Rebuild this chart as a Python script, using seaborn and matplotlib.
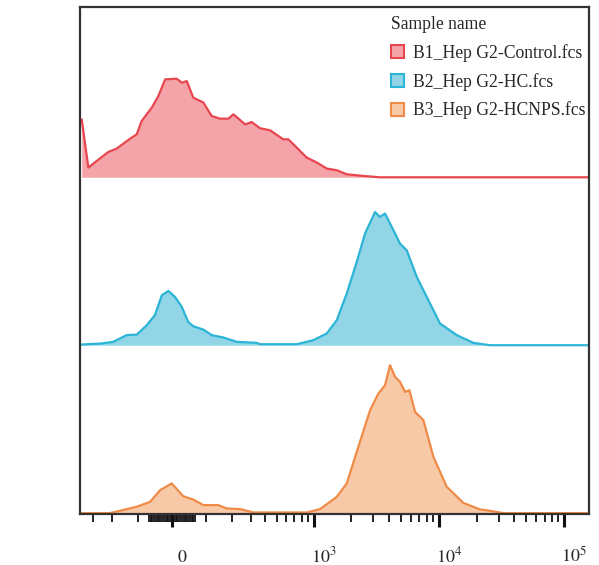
import numpy as np
import pandas as pd
import matplotlib.pyplot as plt
import seaborn as sns
from matplotlib.patches import Patch
from matplotlib.ticker import NullFormatter
from matplotlib.transforms import ScaledTranslation

# histogram outlines (height = fraction of one lane)
samples = ["B1_Hep G2-Control.fcs", "B2_Hep G2-HC.fcs", "B3_Hep G2-HCNPS.fcs"]

red_x = [-379, -332, -280, -218, -180, -127, -104, -88, -57, -38, -19, 13, 27, 41, 60, 91,
         119, 150, 184, 207, 267, 306, 362, 440, 568, 625, 731, 882, 1062, 1278, 1536, 1848,
         2507, 3400, 157000]
red_y = [0.345, 0.058, 0.097, 0.151, 0.171, 0.23, 0.256, 0.335, 0.415, 0.484, 0.583, 0.587,
         0.563, 0.573, 0.474, 0.445, 0.365, 0.349, 0.349, 0.375, 0.315, 0.329, 0.292, 0.28,
         0.226, 0.226, 0.177, 0.117, 0.088, 0.052, 0.042, 0.018, 0.008, 0.0, 0.0]

blue_x = [-385, -255, -195, -140, -104, -72, -48, -28, -10, 8, 27, 45, 60, 91, 119, 163, 223,
          339, 362, 731, 998, 1278, 1536, 1848, 2220, 2585, 3108, 3400, 3734, 4352, 4917, 5561,
          6683, 8025, 10245, 13925, 18880, 25650, 157000]
blue_y = [0.004, 0.01, 0.02, 0.06, 0.063, 0.119, 0.179, 0.298, 0.323, 0.288, 0.228, 0.139,
          0.113, 0.093, 0.06, 0.046, 0.02, 0.014, 0.006, 0.006, 0.03, 0.07, 0.149, 0.308, 0.496,
          0.665, 0.793, 0.764, 0.784, 0.685, 0.605, 0.565, 0.407, 0.288, 0.129, 0.06, 0.014,
          0.0, 0.0]

orange_x = [-385, -210, -166, -104, -62, -33, -1, 31, 60, 91, 143, 177, 240, 317, 882, 1129,
            1536, 1848, 2220, 2835, 3302, 3734, 4094, 4488, 4917, 5390, 5835, 6480, 7545, 9068,
            11585, 15715, 21340, 25650, 32745, 157000]
orange_y = [0, 0, 0.014, 0.038, 0.067, 0.137, 0.177, 0.101, 0.081, 0.048, 0.048, 0.028, 0.024,
            0.004, 0.004, 0.024, 0.097, 0.177, 0.365, 0.613, 0.712, 0.762, 0.881, 0.811, 0.782,
            0.722, 0.732, 0.603, 0.554, 0.335, 0.157, 0.061, 0.022, 0.014, 0, 0]

offsets = [2, 1, 0]
line_colors = ["#E8464F", "#2AB4D6", "#F08A47"]
fill_colors = ["#F4A4A9", "#92D5E6", "#F8C9A6"]

tick_values = [0, 1e3, 1e4, 1e5]
tick_labels = ["$0$", "$10^3$", "$10^4$", "$10^5$"]
minor_values = ([-300, -200, -100] + [v for v in range(-65, 70, 5) if v != 0]
                + list(range(100, 1000, 100)) + list(range(2000, 10000, 1000))
                + list(range(20000, 100000, 10000)))

frames = []
for name, xs, ys, off in zip(samples, [red_x, blue_x, orange_x], [red_y, blue_y, orange_y], offsets):
    frames.append(pd.DataFrame({"sample": name, "x": xs, "value": ys, "offset": off}))
df = pd.concat(frames, ignore_index=True)
df["y"] = df["value"] + df["offset"]

sns.set_style("white")
plt.rcParams["font.family"] = ["Liberation Serif", "DejaVu Serif"]
plt.rcParams["mathtext.fontset"] = "stix"

fig = plt.figure(figsize=(5.99, 5.65), dpi=100)
ax = fig.add_axes([0.134, 0.090, 0.849, 0.897])

for name, fc in zip(samples, fill_colors):
    d = df[df["sample"] == name]
    ax.fill_between(d["x"], d["offset"], d["y"], color=fc, lw=0, zorder=1)

sns.lineplot(data=df, x="x", y="y", hue="sample", palette=dict(zip(samples, line_colors)),
             estimator=None, sort=False, lw=1.6, legend=False, ax=ax, zorder=2)

ax.set_xscale("asinh", linear_width=150)
ax.set_xlim(-390, 157000)
ax.set_ylim(-0.006, 3.012)
ax.set_yticks([])
ax.set_xlabel("")
ax.set_ylabel("")

ax.set_xticks(tick_values, tick_labels)
ax.set_xticks(minor_values, minor=True)
ax.xaxis.set_minor_formatter(NullFormatter())
ax.tick_params(axis="x", which="major", bottom=True, direction="out", length=9.5, width=2.2,
               pad=25, labelsize=13, color="#111111")
ax.tick_params(axis="x", which="minor", bottom=True, direction="out", length=5.5, width=1.3,
               color="#111111")
shift = ScaledTranslation(0.1, 0, fig.dpi_scale_trans)
for lab in ax.get_xticklabels():
    lab.set_va("baseline")
    lab.set_transform(lab.get_transform() + shift)

for s in ax.spines.values():
    s.set_color("#333333")
    s.set_linewidth(1.6)

handles = [Patch(facecolor=fc, edgecolor=lc, lw=1.5, label=name)
           for name, lc, fc in zip(samples, line_colors, fill_colors)]
ax.legend(handles=handles, title="Sample name", loc="upper right", bbox_to_anchor=(1.0, 0.99),
          frameon=False, fontsize=12.7, title_fontsize=12.7, alignment="left",
          handlelength=0.75, handleheight=0.75, handletextpad=0.5, labelspacing=0.62,
          borderaxespad=0.0, borderpad=0.2)

fig.savefig("out.png", dpi=100)
